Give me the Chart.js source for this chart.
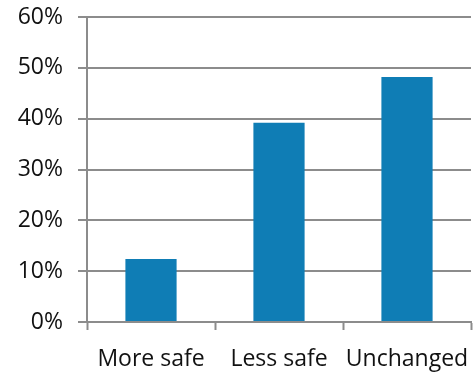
<!DOCTYPE html>
<html>
<head>
<meta charset="utf-8">
<script src="https://cdn.jsdelivr.net/npm/chart.js@4.4.1/dist/chart.umd.min.js"></script>
<style>
  html, body { margin: 0; padding: 0; background: #ffffff; }
  #wrap { width: 474px; height: 373px; }
</style>
</head>
<body>
<div id="wrap"><canvas id="c" width="474" height="373"></canvas></div>
<script>
// Share of respondents by perceived change in safety
const categories = ['More safe', 'Less safe', 'Unchanged'];
const shares = [12.4, 39.2, 48.2];
const yTicks = [0, 10, 20, 30, 40, 50, 60];

const gridGray = '#8c8c8c';
const labelFont = { family: '"Open Sans", Lato, sans-serif', size: 23 };

new Chart(document.getElementById('c'), {
  type: 'bar',
  data: {
    labels: categories,
    datasets: [{
      data: shares,
      backgroundColor: '#0f7db5',
      borderWidth: 0,
      categoryPercentage: 1.0,
      barPercentage: 0.4
    }]
  },
  options: {
    responsive: false,
    animation: false,
    devicePixelRatio: 1,
    layout: { padding: { top: 17, right: 3, left: 0, bottom: 0 } },
    plugins: { legend: { display: false }, tooltip: { enabled: false } },
    scales: {
      x: {
        offset: true,
        grid: {
          offset: true,
          drawOnChartArea: false,
          drawTicks: true,
          tickLength: 8,
          tickWidth: 2,
          tickColor: gridGray
        },
        border: { display: true, color: gridGray, width: 2 },
        ticks: { color: '#111', font: labelFont, padding: 16, maxRotation: 0, autoSkip: false },
        afterFit: (s) => { s.height = 51; s.paddingLeft = 0; s.paddingRight = 0; }
      },
      y: {
        min: 0,
        max: 60,
        afterBuildTicks: (s) => { s.ticks = yTicks.map(v => ({ value: v })); },
        grid: {
          color: gridGray,
          lineWidth: 2,
          drawTicks: true,
          tickLength: 9,
          tickColor: gridGray
        },
        border: { display: true, color: gridGray, width: 2 },
        ticks: {
          color: '#111',
          font: labelFont,
          padding: 15,
          callback: (v) => v + '%'
        },
        afterFit: (s) => { s.width = 87; s.paddingTop = 0; s.paddingBottom = 0; }
      }
    }
  }
});
</script>
</body>
</html>
